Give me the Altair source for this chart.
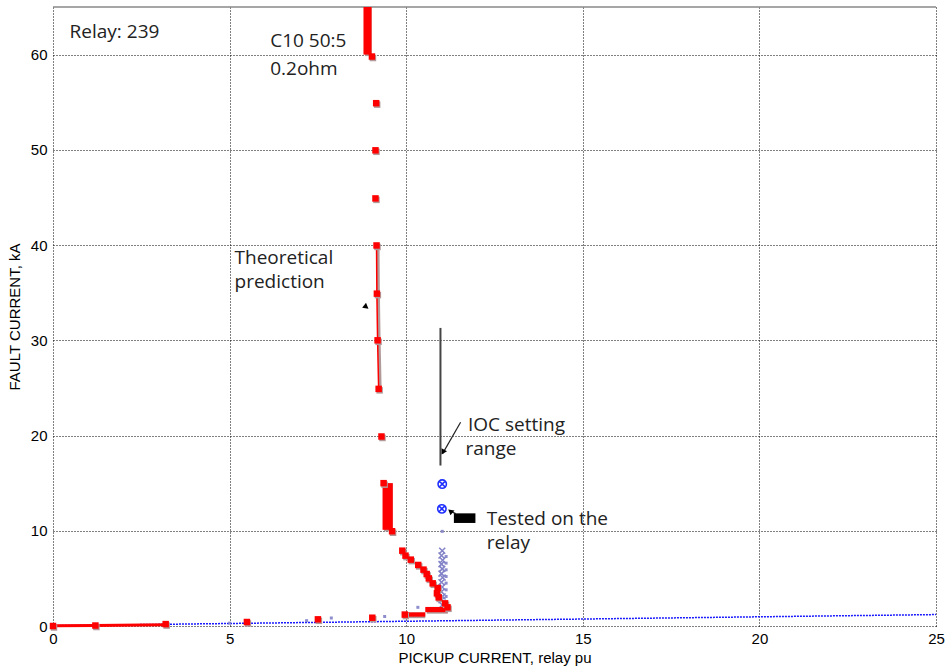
import altair as alt
import pandas as pd

# ---- theoretical prediction (red) ----
theory_x = [0.0, 1.2, 3.19, 5.49, 7.5, 9.04, 9.03, 9.15, 9.13, 9.13, 9.16, 9.17, 9.19, 9.22, 9.30,
            9.36, 9.60, 9.89, 9.98, 10.13, 10.34, 10.49, 10.58, 10.64, 10.75, 10.89, 10.87, 10.92,
            11.10, 11.17, 9.96]
theory_y = [0.0, 0.05, 0.2, 0.42, 0.7, 0.87, 59.8, 54.9, 49.95, 44.9, 39.96, 34.9, 30.0, 24.9, 19.9,
            15.0, 9.95, 7.91, 7.39, 6.97, 6.41, 5.92, 5.46, 5.0, 4.48, 3.99, 3.43, 3.0,
            2.38, 1.96, 1.2]

# densely packed stretches of the prediction, drawn as solid bands
band_x1 = [8.79, 9.33, 9.96, 10.54]
band_x2 = [9.02, 9.62, 10.54, 11.18]
band_y1 = [60.0, 10.1, 0.98, 1.45]
band_y2 = [65.0, 15.0, 1.43, 2.0]

low_x = [0.0, 1.2, 3.19]
low_y = [0.02, 0.05, 0.12]

link_x = [9.16, 9.17, 9.19, 9.22]
link_y = [39.96, 34.9, 30.0, 24.9]

# ---- relay test results (blue) ----
trend_x = [0.0, 25.0]
trend_y = [0.03, 1.2]

tested_x = [11.02, 11.01]
tested_y = [14.9, 12.3]

scan_x = [11.02, 11.0, 11.03, 11.0, 11.02, 11.0, 11.03, 11.0, 11.02, 11.0, 11.03, 11.0, 11.02]
scan_y = [7.9, 7.4, 6.9, 6.5, 6.0, 5.5, 5.1, 4.6, 4.1, 3.6, 3.1, 2.7, 2.2]

trace_x = [11.13, 11.13, 11.13, 11.13, 11.13, 11.13, 11.13, 11.13,
           5.0, 7.18, 7.88, 9.04, 9.39, 10.33, 11.02]
trace_y = [7.3, 6.6, 5.9, 5.2, 4.5, 3.8, 3.1, 2.4,
           0.3, 0.56, 0.84, 0.98, 1.0, 1.96, 9.94]

# ---- IOC setting range ----
ioc_x = [10.97]
ioc_y1 = [16.85]
ioc_y2 = [31.3]

# ---- annotations, one row per text line ----
note_text = ["Relay: 239", "C10 50:5", "0.2ohm", "Theoretical", "prediction", "IOC setting", "range",
             "Tested on the", "relay"]
note_x = [0.47, 6.15, 6.15, 5.14, 5.14, 11.75, 11.68, 12.28, 12.28]
note_y = [61.7, 60.8, 57.85, 38.0, 35.5, 20.45, 17.95, 10.6, 8.1]

RED = "#ff0000"
SHADOW = "#b39a9a"
LAV = "#8282c8"

xs = alt.Scale(domain=[0, 25], nice=False, zero=False)
ys = alt.Scale(domain=[0, 65], nice=False, zero=False)

x_axis = alt.Axis(values=[0, 5, 10, 15, 20, 25], title="PICKUP CURRENT, relay pu", grid=True,
                  domain=False, ticks=False, labelPadding=5, labelFontSize=15,
                  labelFont="Liberation Sans", labelColor="black", titleFont="Liberation Sans",
                  titleFontSize=15, titleFontWeight="normal", titleColor="black", titlePadding=4,
                  gridColor="black", gridDash=[1, 2], gridOpacity=1, labelFlush=False)
y_axis = alt.Axis(values=[0, 10, 20, 30, 40, 50, 60], title="FAULT CURRENT, kA", grid=True,
                  domain=False, ticks=False, labelPadding=6, labelFontSize=15,
                  labelFont="Liberation Sans", labelColor="black", titleFont="Liberation Sans",
                  titleFontSize=15, titleFontWeight="normal", titleColor="black", titlePadding=8,
                  gridColor="black", gridDash=[1, 2], gridOpacity=1)


def X(field="x"):
    return alt.X(f"{field}:Q", scale=xs, axis=x_axis)


def Y(field="y"):
    return alt.Y(f"{field}:Q", scale=ys, axis=y_axis)


theory = pd.DataFrame({"x": theory_x, "y": theory_y})
bands = pd.DataFrame({"x": band_x1, "x2": band_x2, "y": band_y1, "y2": band_y2})
low = pd.DataFrame({"x": low_x, "y": low_y})
link = pd.DataFrame({"x": link_x, "y": link_y})
trend = pd.DataFrame({"x": trend_x, "y": trend_y})
tested = pd.DataFrame({"x": tested_x, "y": tested_y})
scan = pd.DataFrame({"x": scan_x, "y": scan_y})
trace = pd.DataFrame({"x": trace_x, "y": trace_y})
ioc = pd.DataFrame({"x": ioc_x, "y": ioc_y1, "y2": ioc_y2})
notes = pd.DataFrame({"x": note_x, "y": note_y, "t": note_text})

# solid frame line along the top edge
top = alt.Chart(pd.DataFrame({"y": [65]})).mark_rule(color="#888888", strokeWidth=1.5).encode(y=Y())

trend_line = alt.Chart(trend).mark_line(color="#1a1aff", strokeWidth=1.5, strokeDash=[2, 1]).encode(x=X(), y=Y())

trace_pts = alt.Chart(trace).mark_point(shape="square", filled=True, color=LAV, size=9, opacity=0.9).encode(x=X(), y=Y())
scan_pts = alt.Chart(scan).mark_point(shape="M-1,-1L1,1M-1,1L1,-1", filled=False, color=LAV,
                                      size=36, strokeWidth=1.5, opacity=1).encode(x=X(), y=Y())

band_shadow = alt.Chart(bands).mark_rect(color=SHADOW, xOffset=1.5, yOffset=1.5).encode(
    x=X(), x2="x2:Q", y=Y(), y2="y2:Q")
band_rect = alt.Chart(bands).mark_rect(color=RED).encode(x=X(), x2="x2:Q", y=Y(), y2="y2:Q")

low_line = alt.Chart(low).mark_line(color=RED, strokeWidth=3).encode(x=X(), y=Y())
link_shadow = alt.Chart(link).mark_line(color=SHADOW, strokeWidth=3, xOffset=1.5).encode(x=X(), y=Y())
link_line = alt.Chart(link).mark_line(color=RED, strokeWidth=1.5).encode(x=X(), y=Y())

theory_shadow = alt.Chart(theory).mark_point(shape="square", filled=True, color=SHADOW, size=42,
                                             opacity=1, xOffset=1, yOffset=1.5).encode(x=X(), y=Y())
theory_pts = alt.Chart(theory).mark_point(shape="square", filled=True, color=RED, size=42,
                                          opacity=1).encode(x=X(), y=Y())

tested_pts = alt.Chart(tested).mark_point(
    shape="M-1,0A1,1,0,1,1,1,0A1,1,0,1,1,-1,0ZM-0.7,-0.7L0.7,0.7M-0.7,0.7L0.7,-0.7",
    filled=False, color="#1f2fff", size=70, strokeWidth=1.6, opacity=1).encode(x=X(), y=Y())

ioc_rule = alt.Chart(ioc).mark_rule(color="#444444", strokeWidth=2).encode(x=X(), y=Y(), y2="y2:Q")

# pointer lines and arrow heads for the labels
pointer = pd.DataFrame({"x": [11.54, 11.25], "y": [21.39, 12.06], "x2": [11.03, 11.4], "y2": [18.1, 11.8]})
pointer_rules = alt.Chart(pointer).mark_rule(color="#222222", strokeWidth=1.2).encode(
    x=X(), y=Y(), x2="x2:Q", y2="y2:Q")

heads = pd.DataFrame({"x": [11.04, 11.25, 8.87], "y": [18.26, 12.06, 33.5], "a": [210, 310, 127]})
head_pts = alt.Chart(heads).mark_point(shape="triangle-up", filled=True, color="black", size=40,
                                       opacity=1).encode(x=X(), y=Y(), angle=alt.Angle("a:Q", scale=None))

block = pd.DataFrame({"x": [11.35], "x2": [11.96], "y": [10.82], "y2": [11.83]})
block_rect = alt.Chart(block).mark_rect(color="black").encode(x=X(), x2="x2:Q", y=Y(), y2="y2:Q")

note_marks = alt.Chart(notes).mark_text(align="left", baseline="alphabetic", font="Open Sans",
                                        fontSize=19, color="#222222").encode(x=X(), y=Y(), text="t:N")

chart = alt.layer(
    top, trend_line, trace_pts, scan_pts, band_shadow, band_rect, low_line, link_shadow, link_line,
    theory_shadow, theory_pts, tested_pts, ioc_rule, pointer_rules, head_pts, block_rect, note_marks
).properties(
    width=883, height=619,
    autosize=alt.AutoSizeParams(type="none"),
    padding={"left": 53, "top": 7, "right": 12, "bottom": 42},
    background="white",
).configure_view(stroke=None)

chart.save("out.html", embed_options={"renderer": "svg", "actions": False})
